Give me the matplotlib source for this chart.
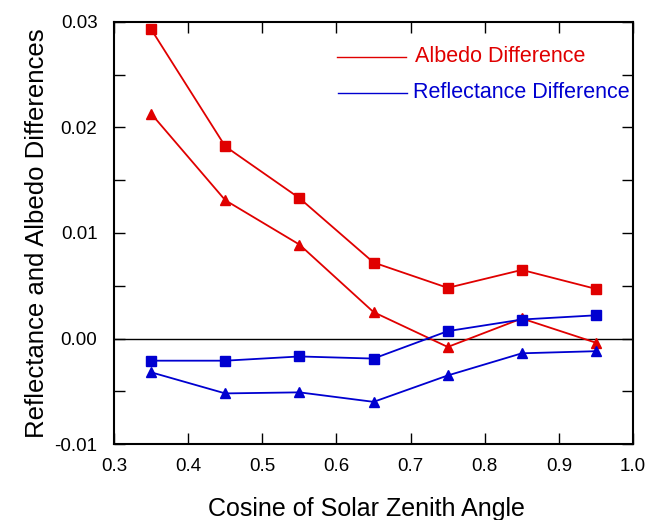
import matplotlib
matplotlib.use('Agg')
import matplotlib.pyplot as plt
from matplotlib.ticker import MultipleLocator, FormatStrFormatter

plt.rcParams['font.family'] = ['Liberation Sans', 'DejaVu Sans']

# Cosine of solar zenith angle
mu0 = [0.35, 0.45, 0.55, 0.65, 0.75, 0.85, 0.95]

# Albedo difference (red)
albedo_sq = [0.0293, 0.0182, 0.0133, 0.0072, 0.0048, 0.0065, 0.0047]
albedo_tri = [0.0213, 0.0131, 0.0089, 0.0025, -0.0008, 0.0019, -0.0004]

# Reflectance difference (blue)
refl_sq = [-0.0021, -0.0021, -0.0017, -0.0019, 0.0007, 0.0018, 0.0022]
refl_tri = [-0.0032, -0.0052, -0.0051, -0.0060, -0.0035, -0.0014, -0.0012]

red = '#e00000'
blue = '#0000d0'

fig = plt.figure(figsize=(6.48, 5.2), dpi=100)
ax = fig.add_axes([0.176, 0.146, 0.801, 0.812])

ax.axhline(0, color='black', lw=1.0, zorder=1)

ax.plot(mu0, albedo_sq, color=red, marker='s', ms=7.5, lw=1.3)
ax.plot(mu0, albedo_tri, color=red, marker='^', ms=7.5, lw=1.3)
ax.plot(mu0, refl_sq, color=blue, marker='s', ms=7.5, lw=1.3)
ax.plot(mu0, refl_tri, color=blue, marker='^', ms=7.5, lw=1.3)

ax.set_xlim(0.3, 1.0)
ax.set_ylim(-0.01, 0.03)
ax.xaxis.set_major_locator(MultipleLocator(0.1))
ax.yaxis.set_major_locator(MultipleLocator(0.01))
ax.yaxis.set_minor_locator(MultipleLocator(0.005))
ax.yaxis.set_major_formatter(FormatStrFormatter('%.2f'))
ax.xaxis.set_major_formatter(FormatStrFormatter('%.1f'))
ax.tick_params(which='both', direction='in', top=True, right=True, labelsize=13.5)
ax.tick_params(axis='y', pad=12)
ax.tick_params(axis='x', pad=10)
ax.tick_params(which='both', length=8, width=1)
for s in ax.spines.values():
    s.set_linewidth(1.5)

ax.set_xlabel('Cosine of Solar Zenith Angle', fontsize=18, labelpad=12)
ax.xaxis.set_label_coords(0.487, -0.125)
ax.set_ylabel('Reflectance and Albedo Differences', fontsize=18.5, labelpad=4)

# legend drawn by hand as in the original
ax.plot([0.601, 0.694], [0.0267, 0.0267], color=red, lw=1.0)
ax.text(0.706, 0.0267, 'Albedo Difference', color=red, fontsize=15.5, va='center')
ax.plot([0.602, 0.695], [0.0233, 0.0233], color=blue, lw=1.0)
ax.text(0.703, 0.0233, 'Reflectance Difference', color=blue, fontsize=15.5, va='center')

fig.savefig('out.png', dpi=100)
